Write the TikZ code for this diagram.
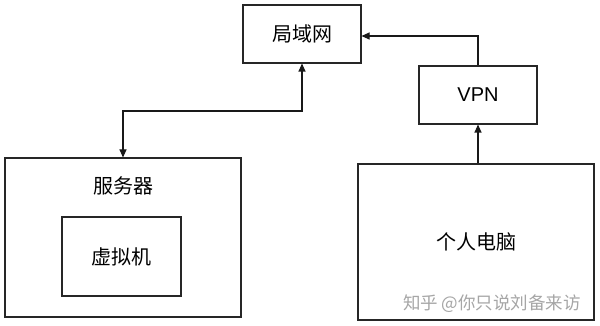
\documentclass[tikz,border=0pt]{standalone}
\usepackage{fontspec}
\setmainfont{Liberation Sans}
\newfontfamily\cjk{Noto Sans CJK SC}
\usetikzlibrary{arrows.meta}
\begin{document}
\begin{tikzpicture}[x=1pt,y=-1pt,
  box/.style={draw=black!85,line width=1.1pt,fill=white,inner sep=0pt,font=\cjk\fontsize{20}{22}\selectfont},
  lbl/.style={font=\cjk\fontsize{20}{22}\selectfont,inner sep=0pt},
  conn/.style={draw=black!90,line width=1.1pt},
  tip/.style={-{Triangle[length=8pt,width=7pt]}}]
\useasboundingbox (0,0) rectangle (600,326);
\fill[white] (0,0) rectangle (600,326);
% boxes
\node[box,minimum width=118pt,minimum height=58pt] (lan) at (302,34) {局域网};
\node[box,minimum width=118pt,minimum height=58pt,font=\fontsize{20}{22}\selectfont] (vpn) at (478,95) {VPN};
\node[box,minimum width=236pt,minimum height=159pt] (srv) at (123,237.5) {};
\node[lbl] (srvt) at (123,186) {服务器};
\node[box,minimum width=119pt,minimum height=79pt] (vm) at (121.5,256.5) {虚拟机};
\node[box,minimum width=236pt,minimum height=156pt] (pc) at (476,242) {个人电脑};
\node[font=\cjk\fontsize{17.5}{19}\selectfont,text=black!35,inner sep=0pt] (wm) at (492,304) {知乎 @你只说刘备来访};
% connectors
\draw[conn,{Triangle[length=8pt,width=7pt]}-{Triangle[length=8pt,width=7pt]}] (lan.south) -- (302,111) -| (srv.north);
\draw[conn,tip] (vpn.north) |- ([yshift=-2pt]lan.east);
\draw[conn,tip] (pc.north -| vpn.south) -- (vpn.south);
\end{tikzpicture}
\end{document}
